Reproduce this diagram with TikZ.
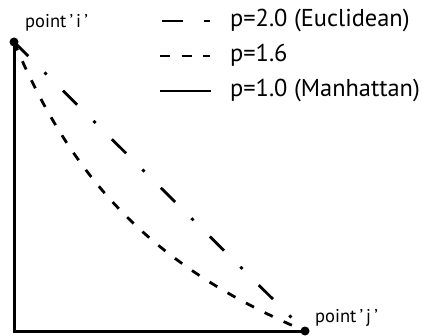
\documentclass[tikz,border=0pt]{standalone}
\usepackage{fontspec}
\setmainfont{PT Sans}
\begin{document}
\begin{tikzpicture}[x=1pt,y=-1pt,
  dotpt/.style={circle,fill=black,inner sep=0pt,minimum size=9pt},
  axisline/.style={line width=3pt},
  eucl/.style={line width=2.8pt,dash pattern=on 20pt off 23pt on 3pt off 23pt},
  pmid/.style={line width=2.8pt,dash pattern=on 9pt off 12pt},
  legtext/.style={anchor=base west,inner sep=0pt,font=\fontsize{24.4}{28}\selectfont},
  ptlabel/.style={anchor=base west,inner sep=0pt,font=\fontsize{18.5}{22}\selectfont}]
\useasboundingbox (0,0) rectangle (433,336);
\fill[white] (0,0) rectangle (433,336);
% points
\node[dotpt] (pi) at (14,42) {};
\node[dotpt] (pj) at (305,331) {};
\coordinate (corner) at (14,331);
\node[ptlabel] (li) at (25,28) {point\,’\,i\,’};
\node[ptlabel] (lj) at (315,322) {point\,’\,j\,’};
% axes (Manhattan)
\draw[axisline,line cap=rect] (pi.center) -- (corner) -- (pj.center);
% Euclidean
\draw[eucl] (pi.center) -- (pj.center);
% p=1.6
\draw[pmid] (pi.center) .. controls (75,187) and (159,269) .. (pj.center);
% legend
\coordinate (a1) at (162,21); \coordinate (a2) at (183,21);
\coordinate (a3) at (204,21); \coordinate (a4) at (210,21);
\draw[line width=2.8pt] (a1) -- (a2);
\draw[line width=2.8pt] (a3) -- (a4);
\coordinate (b1) at (160,56); \coordinate (b2) at (210,56);
\draw[line width=2.8pt,dash pattern=on 10pt off 11.5pt] (b1) -- (b2);
\coordinate (c1) at (160,91); \coordinate (c2) at (211,91);
\draw[line width=2.8pt] (c1) -- (c2);
\node[legtext] (t1) at (230,27) {p=2.0 (Euclidean)};
\node[legtext] (t2) at (230,62) {p=1.6};
\node[legtext] (t3) at (230,97) {p=1.0 (Manhattan)};
\end{tikzpicture}
\end{document}
